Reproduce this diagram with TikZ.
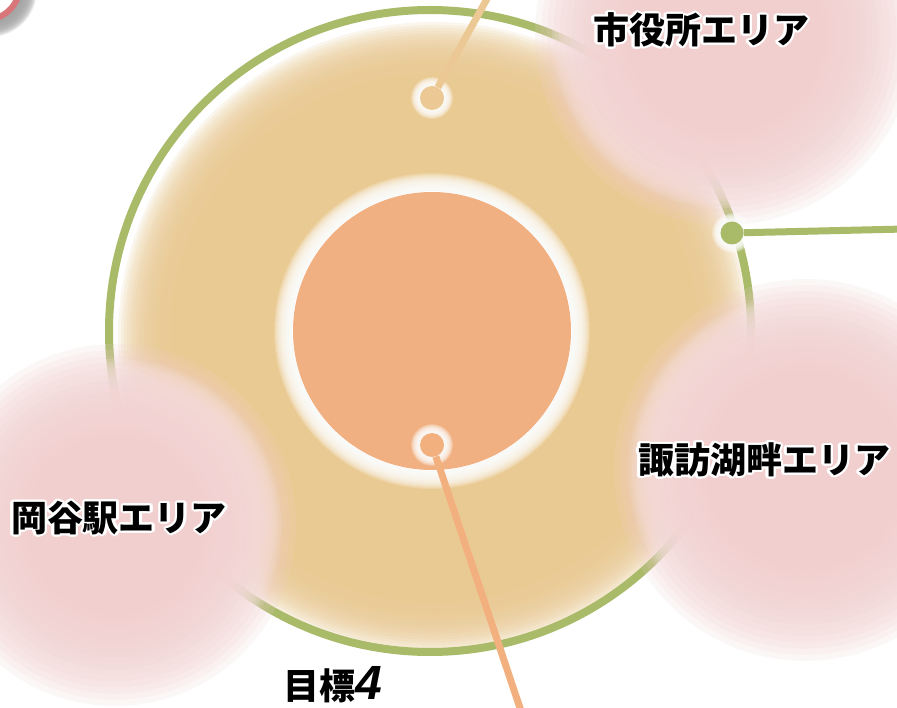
\documentclass[tikz,border=0pt]{standalone}
\usepackage{fontspec}
\newfontfamily\jp{Noto Sans CJK JP}
\newfontfamily\numfont{Liberation Sans}
\usepackage{contour}
\contourlength{2.2pt}
\contournumber{16}
\definecolor{ringgreen}{HTML}{A9BA69}
\definecolor{blobpink}{HTML}{F2CFCF}
\definecolor{beige}{HTML}{EACA93}
\definecolor{coreorange}{HTML}{F1B082}
\definecolor{linebeige}{HTML}{EBC894}
\definecolor{lineorange}{HTML}{F2B07F}
\definecolor{badgered}{HTML}{D9767A}
\newcommand\softdisk[5]{%
  \fill[#1] (#2,#3) circle[radius={(#4-#5)*1pt}];
  \foreach \k in {1,...,18}{%
    \fill[#1,fill opacity=0.16] (#2,#3) circle[radius={(#4-#5+2*#5*\k/18)*1pt}];}%
}
\tikzset{
  arealabel/.style={inner sep=0pt, font=\jp\bfseries\fontsize{36}{40}\selectfont},
  dotnode/.style={circle, fill=#1, inner sep=0pt, minimum size=24pt},
  connector/.style={line width=7pt, #1},
}
\begin{document}
\begin{tikzpicture}[x=1pt,y=-1pt]
\useasboundingbox (0,0) rectangle (897,708);
\clip (0,0) rectangle (897,708);
\fill[white] (0,0) rectangle (897,708);
% beige blob
\softdisk{beige}{434}{338}{290}{26}
% outer ring
\coordinate (ringc) at (430,331);
\draw[ringgreen, line width=8pt] (ringc) circle[radius=321pt];
% pink blobs
\softdisk{white}{725}{35}{145}{28}
\softdisk{blobpink}{725}{35}{135}{55}
\softdisk{white}{805}{470}{148}{28}
\softdisk{blobpink}{805}{470}{136}{55}
\softdisk{white}{115}{525}{138}{28}
\softdisk{blobpink}{115}{525}{126}{55}
% core
\softdisk{white}{432}{331}{149}{9}
\fill[coreorange] (432,331) circle[radius=139pt];
% badge top-left
\softdisk{black!35}{-10}{-10}{40}{7}
\draw[badgered, fill=white, line width=6pt] (-15,-15) circle[radius=35pt];
% dots and connectors
\softdisk{white}{432}{98}{16}{5}
\softdisk{white}{432}{445}{16}{5}
\softdisk{white}{732}{233}{15}{5}
\node[dotnode=linebeige] (dtop) at (432,98) {};
\node[dotnode=lineorange] (dcore) at (432,445) {};
\node[dotnode=ringgreen, minimum size=23pt] (dright) at (732,233) {};
\coordinate (etop) at (493,-12);
\coordinate (ecore) at (524,720);
\coordinate (eright) at (905,229);
\draw[connector=linebeige] (dtop) -- (etop);
\draw[connector=lineorange] (dcore) -- (ecore);
\draw[connector=ringgreen] (dright) -- (eright);
% labels
\node[arealabel] (lcity) at (701,31) {\contour{white}{市役所エリア}};
\node[arealabel] (lsuwa) at (764,461) {\contour{white}{諏訪湖畔エリア}};
\node[arealabel] (lokaya) at (119,519) {\contour{white}{岡谷駅エリア}};
\node[inner sep=0pt] (lgoal) at (333,686) {\contour{white}{\jp\bfseries\fontsize{36}{40}\selectfont 目標\numfont\bfseries\itshape\fontsize{48}{48}\selectfont 4}};
\end{tikzpicture}
\end{document}
